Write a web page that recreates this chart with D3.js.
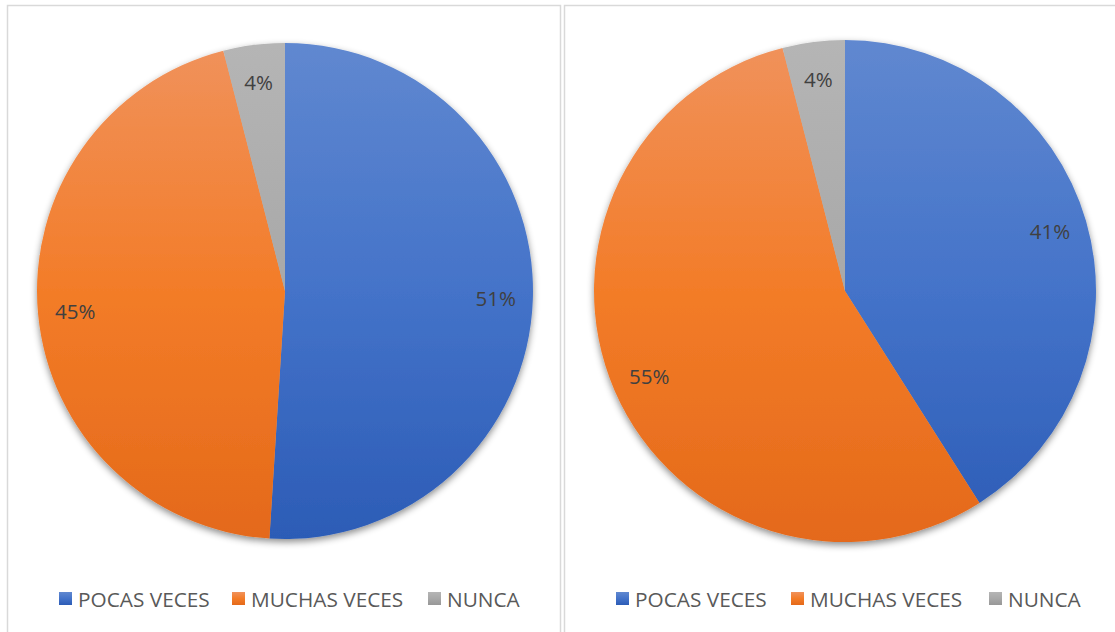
<!DOCTYPE html>
<html><head><meta charset="utf-8">
<script src="https://cdn.jsdelivr.net/npm/d3@7"></script>
<style>body{margin:0;background:#fff;}svg{display:block;font-family:"Open Sans","Liberation Sans",sans-serif;}</style>
</head><body><svg id="c" width="1115" height="632"></svg>
<script>
const categories = ["POCAS VECES", "MUCHAS VECES", "NUNCA"];
const valuesLeft = [51, 45, 4];
const valuesRight = [41, 55, 4];
const colorsTop = ["#6088D0", "#F0925C", "#B5B5B5"];
const colorsMid = ["#4473C9", "#F37C28", "#A8A8A8"];
const colorsBottom = ["#2C5CB6", "#E4691A", "#979797"];

const svg = d3.select("#c");
const defs = svg.append("defs");
const f = defs.append("filter").attr("id","sh").attr("x","-10%").attr("y","-10%").attr("width","120%").attr("height","125%");
f.append("feDropShadow").attr("dx",0).attr("dy",3).attr("stdDeviation",3.5).attr("flood-color","#000").attr("flood-opacity",0.45);

function addGrad(id, i, y1, y2, units) {
  const g = defs.append("linearGradient").attr("id",id).attr("x1",0).attr("x2",0);
  if (units) g.attr("gradientUnits","userSpaceOnUse").attr("y1",y1).attr("y2",y2);
  else g.attr("y1",0).attr("y2",1);
  g.append("stop").attr("offset","0").attr("stop-color",colorsTop[i]);
  g.append("stop").attr("offset","0.5").attr("stop-color",colorsMid[i]);
  g.append("stop").attr("offset","1").attr("stop-color",colorsBottom[i]);
}

const panels = [
  {x:7.5, w:553, cx:285, cy:291, r:248, vals:valuesLeft, legX:[59,232,428], id:"l"},
  {x:564.5, w:560, cx:845, cy:291, r:251, vals:valuesRight, legX:[616,791,989], id:"r"}
];

panels.forEach(p => {
  svg.append("rect").attr("x",p.x).attr("y",5.5).attr("width",p.w).attr("height",640)
    .attr("fill","#fff").attr("stroke","#d9d9d9").attr("stroke-width",1.5);
  categories.forEach((c,i) => {
    addGrad("g"+p.id+i, i, -p.r, p.r, true);
    addGrad("lg"+p.id+i, i, 0, 1, false);
  });
  const pie = d3.pie().sort(null).value(d=>d);
  const arcs = pie(p.vals);
  const arc = d3.arc().innerRadius(0).outerRadius(p.r);
  const lab = d3.arc().innerRadius(p.r*0.85).outerRadius(p.r*0.85);
  const g = svg.append("g").attr("transform",`translate(${p.cx},${p.cy})`);
  g.append("g").attr("filter","url(#sh)").selectAll("path").data(arcs).join("path")
    .attr("d",arc).attr("fill",(d,i)=>`url(#g${p.id}${i})`);
  g.selectAll("text").data(arcs).join("text")
    .attr("transform",d=>{const [x,y]=lab.centroid(d);return `translate(${x},${y})`;})
    .attr("text-anchor","middle").attr("dominant-baseline","central")
    .attr("font-size",20.5).attr("fill","#404040")
    .text(d=>d.data+"%");
  const lg = svg.append("g");
  categories.forEach((c,i)=>{
    lg.append("rect").attr("x",p.legX[i]).attr("y",592).attr("width",13).attr("height",13)
      .attr("fill",`url(#lg${p.id}${i})`);
    lg.append("text").attr("x",p.legX[i]+19).attr("y",599).attr("dominant-baseline","central")
      .attr("font-size",20.8).attr("fill","#595959").text(c);
  });
});
</script></body></html>
